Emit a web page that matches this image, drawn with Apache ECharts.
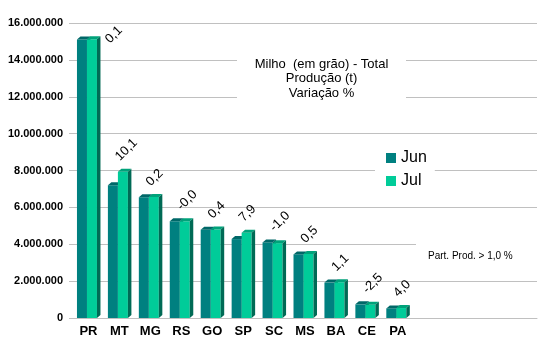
<!DOCTYPE html>
<html>
<head>
<meta charset="utf-8">
<script src="https://cdn.jsdelivr.net/npm/echarts@6/dist/echarts.min.js"></script>
<style>
  html, body { margin: 0; padding: 0; background: #fff; }
  #chart { width: 547px; height: 347px; }
</style>
</head>
<body>
<div id="chart"></div>
<script>
// Milho (em grão): produção por UF, levantamentos de junho e julho
const states = ['PR', 'MT', 'MG', 'RS', 'GO', 'SP', 'SC', 'MS', 'BA', 'CE', 'PA'];
const prodJun = [15100000, 7200000, 6550000, 5250000, 4780000, 4280000, 4100000, 3450000, 1920000, 740000, 520000];
const prodJul = [15120000, 7930000, 6560000, 5250000, 4800000, 4620000, 4060000, 3470000, 1940000, 720000, 540000];
const variation = ['0,1', '10,1', '0,2', '-0,0', '0,4', '7,9', '-1,0', '0,5', '1,1', '-2,5', '4,0'];
const yTicks = [0, 2000000, 4000000, 6000000, 8000000, 10000000, 12000000, 14000000, 16000000];
const titleLines = ['Milho  (em grão) - Total', 'Produção (t)', 'Variação %'];
const noteText = 'Part. Prod. > 1,0 %';

// the axis keeps room for 15 slots; the unused ones stay blank
const slotCount = 15;
const categories = states.concat(new Array(slotCount - states.length).fill(''));

const FONT = '"Liberation Sans", Arial, sans-serif';
const BAR_W = 10;
const DEPTH_X = 3.5;
const DEPTH_Y = 3;

const palette = {
  Jun: { front: '#008080', top: '#006868', side: '#005c5c' },
  Jul: { front: '#00cc99', top: '#00a27a', side: '#006a55' }
};

// the first label sits beside its bar so it stays inside the plot
const labelShift = { 0: [21, 15] };

function fmtThousands(v) {
  return String(v).replace(/\B(?=(\d{3})+(?!\d))/g, '.');
}

function barRenderer(colors, offsetX, withLabel) {
  return function (params, api) {
    const ci = api.value(0);
    const val = api.value(1);
    const base = api.coord([ci, 0]);
    const topPt = api.coord([ci, val]);
    const x = base[0] + offsetX;
    const yT = topPt[1];
    const yB = base[1];
    const children = [
      { type: 'rect', shape: { x: x, y: yT, width: BAR_W, height: yB - yT },
        style: { fill: colors.front } },
      { type: 'polygon', shape: { points: [[x, yT], [x + BAR_W, yT], [x + BAR_W + DEPTH_X, yT - DEPTH_Y], [x + DEPTH_X, yT - DEPTH_Y]] },
        style: { fill: colors.top } },
      { type: 'polygon', shape: { points: [[x + BAR_W, yT], [x + BAR_W + DEPTH_X, yT - DEPTH_Y], [x + BAR_W + DEPTH_X, yB - DEPTH_Y], [x + BAR_W, yB]] },
        style: { fill: colors.side } }
    ];
    if (withLabel) {
      const other = api.value(2);
      const highest = api.coord([ci, Math.max(val, other)]);
      const shift = labelShift[params.dataIndex] || [0, 0];
      children.push({
        type: 'text',
        x: base[0] - 2 + shift[0],
        y: highest[1] - 13 + shift[1],
        rotation: Math.PI / 4,
        style: {
          text: variation[params.dataIndex],
          fill: '#000',
          font: '13px ' + FONT,
          align: 'left',
          verticalAlign: 'middle'
        }
      });
    }
    return { type: 'group', children: children };
  };
}

const chart = echarts.init(document.getElementById('chart'), null, { renderer: 'canvas' });

const option = {
  animation: false,
  backgroundColor: '#ffffff',
  grid: { left: 73, right: 10, top: 23, bottom: 29, containLabel: false },
  xAxis: {
    type: 'category',
    data: categories,
    axisLine: { show: true, lineStyle: { color: '#c0c0c0', width: 1 } },
    axisTick: { show: false },
    axisLabel: { color: '#000', fontFamily: FONT, fontWeight: 'bold', fontSize: 13, margin: 7, interval: 0 },
    splitLine: { show: false }
  },
  yAxis: {
    type: 'value',
    min: yTicks[0],
    max: yTicks[yTicks.length - 1],
    interval: yTicks[1] - yTicks[0],
    axisLine: { show: false },
    axisTick: { show: true, length: 4, lineStyle: { color: '#c0c0c0' } },
    axisLabel: { color: '#000', fontFamily: FONT, fontWeight: 'bold', fontSize: 11, margin: 10,
      formatter: function (v) { return fmtThousands(v); } },
    splitLine: { show: true, lineStyle: { color: '#c0c0c0', width: 1 } }
  },
  legend: {
    orient: 'vertical',
    left: 375,
    top: 146,
    data: ['Jun', 'Jul'],
    icon: 'rect',
    itemWidth: 10,
    itemHeight: 10,
    itemGap: 5,
    padding: [3, 8, 3, 11],
    backgroundColor: '#ffffff',
    textStyle: { color: '#000', fontFamily: FONT, fontSize: 16, lineHeight: 18 },
    z: 10
  },
  graphic: [
    { type: 'rect', z: 10, shape: { x: 237, y: 53, width: 169, height: 48 }, style: { fill: '#ffffff' } },
    { type: 'text', z: 11, x: 321.5, y: 57,
      style: { text: titleLines.join('\n'), fill: '#000', font: '13px ' + FONT, align: 'center', verticalAlign: 'top', lineHeight: 14.5 } },
    { type: 'rect', z: 10, shape: { x: 416, y: 238, width: 131, height: 30 }, style: { fill: '#ffffff' } },
    { type: 'text', z: 11, x: 428, y: 256,
      style: { text: noteText, fill: '#000', font: '10px ' + FONT, align: 'left', verticalAlign: 'middle' } }
  ],
  series: [
    {
      name: 'Jun',
      type: 'custom',
      itemStyle: { color: palette.Jun.front },
      renderItem: barRenderer(palette.Jun, -11.5, false),
      encode: { x: 0, y: 1 },
      data: prodJun.map(function (v, i) { return [i, v]; }),
      z: 2
    },
    {
      name: 'Jul',
      type: 'custom',
      itemStyle: { color: palette.Jul.front },
      renderItem: barRenderer(palette.Jul, -1.5, true),
      encode: { x: 0, y: 1 },
      data: prodJul.map(function (v, i) { return [i, v, prodJun[i]]; }),
      z: 3
    }
  ]
};

chart.setOption(option);
</script>
</body>
</html>
